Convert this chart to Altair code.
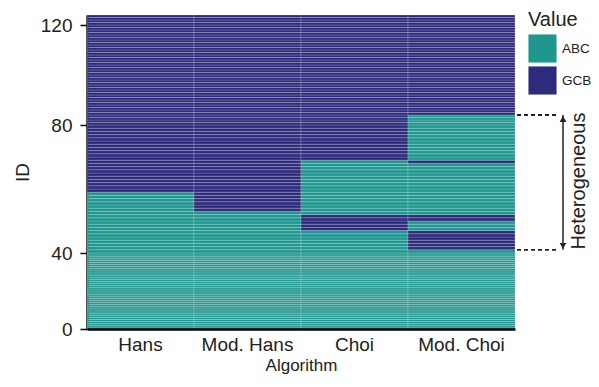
import altair as alt
import pandas as pd

# ---- data ----
algorithms = ["Hans", "Mod. Hans", "Choi", "Mod. Choi"]
# run-length encoded classification per algorithm, from ID 1 upward: (value, number of IDs)
hans_runs = [("ABC", 59), ("GCB", 65)]
mod_hans_runs = [("ABC", 53), ("GCB", 71)]
choi_runs = [("ABC", 47), ("GCB", 5), ("ABC", 17), ("GCB", 55)]
mod_choi_runs = [("ABC", 41), ("GCB", 6), ("ABC", 3), ("GCB", 2),
                 ("ABC", 16), ("GCB", 1), ("ABC", 15), ("GCB", 40)]
values = ["ABC", "GCB"]
colors = ["#1f968e", "#2d2b7c"]
y_ticks = [0, 40, 80, 120]
hetero_bounds = [84, 41]
hetero_label = "Heterogeneous"

runs = {"Hans": hans_runs, "Mod. Hans": mod_hans_runs,
        "Choi": choi_runs, "Mod. Choi": mod_choi_runs}

rows = []
for alg in algorithms:
    idx = 0
    for val, n in runs[alg]:
        for _ in range(n):
            idx += 1
            rows.append({"Algorithm": alg, "ID": idx, "y0": idx - 1, "y1": idx, "Value": val})
df = pd.DataFrame(rows)

W, H = 428, 314
PAD_L, PAD_T = 79, 7
SVG_W, SVG_H = 583, 366
yscale = alt.Scale(domain=[0, 40, 80, 124], range=[H, 238, 110, 0], nice=False, zero=False)

heat = alt.Chart(df).mark_rect(stroke="white", strokeOpacity=0.3, strokeWidth=0.6).encode(
    x=alt.X("Algorithm:N", sort=algorithms, title="Algorithm",
            scale=alt.Scale(paddingInner=0, paddingOuter=0),
            axis=alt.Axis(labelAngle=0, ticks=False, tickSize=0, labelPadding=6,
                          titleBaseline="alphabetic", titleY=41, titleFontSize=17,
                          domainWidth=2.5, domainColor="black")),
    y=alt.Y("y0:Q", scale=yscale, title="ID",
            axis=alt.Axis(values=y_ticks, tickSize=7, tickWidth=1.5, tickColor="black",
                          labelPadding=8, titlePadding=8, domainWidth=2.5, domainColor="black",
                          grid=False)),
    y2="y1:Q",
    color=alt.Color("Value:N", scale=alt.Scale(domain=values, range=colors),
                    legend=alt.Legend(orient="none", legendX=441, legendY=-5,
                                      symbolType="square", symbolSize=790, symbolStrokeWidth=0,
                                      titleFontSize=20, labelFontSize=13.5, titlePadding=4,
                                      rowPadding=3, labelOffset=5, titleFontWeight="normal",
                                      titleColor="#222", labelColor="#222")),
)

bdf = pd.DataFrame({"y": hetero_bounds})
dashes = alt.Chart(bdf).mark_rule(strokeDash=[4, 3], strokeWidth=1.8, color="#222").encode(
    y=alt.Y("y:Q", scale=yscale), x=alt.value(W + 2), x2=alt.value(W + 42))

adf = pd.DataFrame({"y": [hetero_bounds[0]], "y2": [hetero_bounds[1]]})
arrow = alt.Chart(adf).mark_rule(strokeWidth=1.5, color="#222").encode(
    y=alt.Y("y:Q", scale=yscale), y2="y2:Q", x=alt.value(W + 48))

tip_up = alt.Chart(pd.DataFrame({"y": [hetero_bounds[0]]})).mark_point(
    shape="triangle-up", filled=True, size=45, color="#222", opacity=1, yOffset=4).encode(
    y=alt.Y("y:Q", scale=yscale), x=alt.value(W + 48))
tip_down = alt.Chart(pd.DataFrame({"y": [hetero_bounds[1]]})).mark_point(
    shape="triangle-down", filled=True, size=45, color="#222", opacity=1, yOffset=-4).encode(
    y=alt.Y("y:Q", scale=yscale), x=alt.value(W + 48))

tdf = pd.DataFrame({"y": [sum(hetero_bounds) / 2], "t": [hetero_label]})
label = alt.Chart(tdf).mark_text(angle=270, fontSize=20, color="#222", baseline="middle",
                                 align="center").encode(
    y=alt.Y("y:Q", scale=yscale), x=alt.value(W + 64), text="t:N")

chart = alt.layer(heat, dashes, arrow, tip_up, tip_down, label).properties(
    width=W, height=H,
    autosize=alt.AutoSizeParams(type="none"),
    padding={"left": PAD_L, "top": PAD_T,
             "right": SVG_W - PAD_L - W, "bottom": SVG_H - PAD_T - H},
).configure_view(stroke=None).configure_axis(
    labelFont="Liberation Sans", titleFont="Liberation Sans",
    labelFontSize=19, titleFontSize=19, labelColor="#222", titleColor="#222",
    titleFontWeight="normal",
).configure_legend(labelFont="Liberation Sans", titleFont="Liberation Sans").configure_text(
    font="Liberation Sans")

chart.save("out.html", embed_options={"renderer": "svg", "actions": False})
